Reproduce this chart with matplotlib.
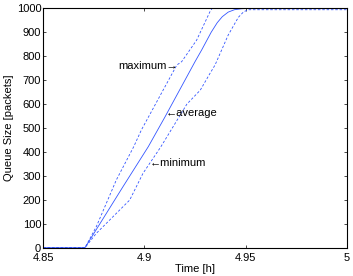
import matplotlib
matplotlib.use("Agg")
import matplotlib.pyplot as plt

plt.rcParams['font.family'] = ['Liberation Sans', 'DejaVu Sans']

avg_t = [4.85, 4.8706, 4.8894, 4.9019, 4.9102, 4.9250, 4.9283, 4.9330, 4.9360, 4.9385, 4.9414, 4.9445, 4.9480, 4.9520, 5.0]
avg_v = [0, 0, 255, 422, 547, 777, 826, 900, 940, 965, 984, 994, 998, 1000, 1000]

max_t = [4.85, 4.8706, 4.8762, 4.8861, 4.8947, 4.8985, 4.9160, 4.9184, 4.9258, 4.9324, 4.9335, 5.0]
max_v = [0, 0, 88, 283, 422, 492, 763, 777, 867, 986, 1000, 1000]

min_t = [4.85, 4.8706, 4.8762, 4.8845, 4.8927, 4.8993, 4.9080, 4.9210, 4.9276, 4.9324, 4.9349, 4.9414, 4.9464, 4.9490, 4.9513, 5.0]
min_v = [0, 0, 60, 130, 199, 311, 420, 600, 658, 728, 763, 888, 962, 985, 994, 994]

xticks = [4.85, 4.9, 4.95, 5.0]
xticklabels = ['4.85', '4.9', '4.95', '5']
yticks = list(range(0, 1001, 100))

fig = plt.figure(figsize=(3.53, 2.76), dpi=100)
ax = fig.add_axes([0.1227, 0.1025, 0.8595, 0.8675])
col = '#3355ff'
ax.plot(avg_t, avg_v, color=col, lw=0.6)
ax.plot(max_t, max_v, color=col, lw=0.6, dashes=(3, 2.2))
ax.plot(min_t, min_v, color=col, lw=0.6, dashes=(3, 2.2))

ax.set_xlim(4.85, 5.0)
ax.set_ylim(0, 1000)
ax.set_xticks(xticks)
ax.set_xticklabels(xticklabels)
ax.set_yticks(yticks)
ax.tick_params(direction='in', length=2.5, width=0.5, labelsize=8, top=True, right=True)
ax.tick_params(axis='x', pad=3.5)
ax.tick_params(axis='y', pad=1.5)
for s in ax.spines.values():
    s.set_linewidth(0.8)
ax.set_xlabel('Time [h]', fontsize=8, labelpad=1)
ax.set_ylabel('Queue Size [packets]', fontsize=8, labelpad=2)

ax.text(4.9164, 759, 'maximum\u2192', fontsize=8, ha='right', va='center')
ax.text(4.9105, 561, '\u2190average', fontsize=8, ha='left', va='center')
ax.text(4.9024, 352, '\u2190minimum', fontsize=8, ha='left', va='center')

fig.savefig('out.png', dpi=100)
